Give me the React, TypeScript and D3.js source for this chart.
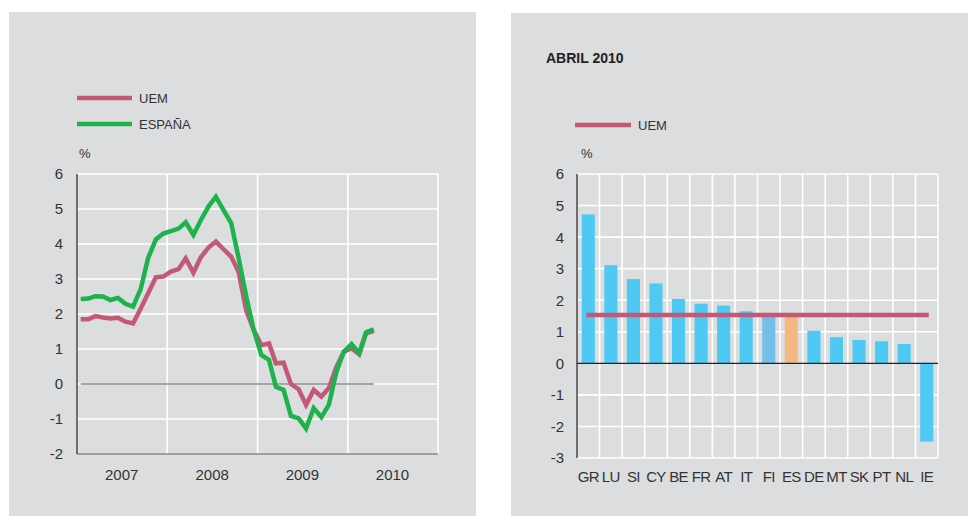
import React from "react";
import * as d3 from "d3";

// ---- Left chart data: monthly HICP inflation, Jan 2007 – Apr 2010 (%)
const START_YEAR = 2007;
const UEM_SERIES = [
  1.85, 1.85, 1.94, 1.9, 1.87, 1.89, 1.78, 1.73, 2.16, 2.59, 3.05, 3.07,
  3.21, 3.28, 3.59, 3.18, 3.62, 3.9, 4.07, 3.85, 3.64, 3.2, 2.1, 1.55,
  1.11, 1.16, 0.59, 0.61, 0.0, -0.15, -0.6, -0.17, -0.36, -0.12, 0.49, 0.92,
  1.02, 0.85, 1.45, 1.52,
];
const ESP_SERIES = [
  2.43, 2.44, 2.51, 2.5, 2.4, 2.46, 2.29, 2.21, 2.72, 3.6, 4.13, 4.3,
  4.37, 4.44, 4.62, 4.26, 4.68, 5.07, 5.35, 4.97, 4.6, 3.6, 2.5, 1.55,
  0.83, 0.69, -0.08, -0.17, -0.91, -0.98, -1.27, -0.69, -0.95, -0.6, 0.35, 0.92,
  1.14, 0.88, 1.48, 1.56,
];
const YEAR_LABELS = ["2007", "2008", "2009", "2010"];
const LEFT_TICKS = [6, 5, 4, 3, 2, 1, 0, -1, -2];
const LEGEND_LEFT = ["UEM", "ESPAÑA"];

// ---- Right chart data: April 2010
const COUNTRIES = ["GR", "LU", "SI", "CY", "BE", "FR", "AT", "IT", "FI", "ES", "DE", "MT", "SK", "PT", "NL", "IE"];
const COUNTRY_VALUES = [4.72, 3.11, 2.67, 2.53, 2.04, 1.89, 1.83, 1.65, 1.5, 1.5, 1.03, 0.83, 0.74, 0.7, 0.61, -2.48];
const UEM_APRIL = 1.53;
const RIGHT_TICKS = [6, 5, 4, 3, 2, 1, 0, -1, -2, -3];
const RIGHT_TITLE = "ABRIL 2010";

const C_UEM = "#c25a77";
const C_ESP = "#1db24b";
const C_BAR = "#4ec9f3";
const C_FI = "#74bfea";
const C_ES = "#f4b97e";
const C_PANEL = "#dcdddf";
const C_TEXT = "#333333";
const FONT = "'Liberation Sans', Arial, Helvetica, sans-serif";

function LeftChart() {
  const x0 = 77, x1 = 438, yTop = 174, yBot = 454;
  const x = d3
    .scaleTime()
    .domain([new Date(START_YEAR, 0, 1), new Date(START_YEAR + YEAR_LABELS.length, 0, 1)])
    .range([x0, x1]);
  const y = d3.scaleLinear().domain([-2, 6]).range([yBot, yTop]);
  const dates = UEM_SERIES.map((_, i) => new Date(START_YEAR, i, 16));
  const line = d3
    .line<number>()
    .x((_, i) => x(dates[i]))
    .y((v) => y(v));
  const yearStarts = YEAR_LABELS.map((yy) => new Date(+yy + 1, 0, 1));
  const yearMids = YEAR_LABELS.map((yy) => new Date(+yy, 6, 1));
  return (
    <g>
      <rect x={9} y={12} width={467} height={510} fill={C_PANEL} />
      {/* legend */}
      {LEGEND_LEFT.map((name, i) => (
        <g key={name}>
          <line x1={77} x2={132} y1={98 + i * 26} y2={98 + i * 26} stroke={i === 0 ? C_UEM : C_ESP} strokeWidth={4.5} />
          <text x={139} y={98 + i * 26} dy="0.36em" fontSize={13} fill={C_TEXT} fontFamily={FONT}>
            {name}
          </text>
        </g>
      ))}
      <text x={79} y={153} dy="0.36em" fontSize={13} fill={C_TEXT} fontFamily={FONT}>%</text>
      {/* grid */}
      {LEFT_TICKS.filter((t) => t > -2).map((t) => (
        <line key={t} x1={x0} x2={x1} y1={y(t)} y2={y(t)} stroke="#fff" strokeWidth={1.6} />
      ))}
      {yearStarts.map((d, i) => (
        <line key={i} x1={x(d)} x2={x(d)} y1={yTop} y2={yBot} stroke="#fff" strokeWidth={1.6} />
      ))}
      <line x1={x0} x2={x1} y1={yBot} y2={yBot} stroke="#8a8a8a" strokeWidth={1.3} />
      <line x1={x0} x2={x0} y1={yTop} y2={yBot} stroke="#333" strokeWidth={1.3} />
      <line x1={x(dates[0])} x2={x(dates[dates.length - 1])} y1={y(0)} y2={y(0)} stroke="#555" strokeWidth={1.1} />
      {/* tick labels */}
      {LEFT_TICKS.map((t) => (
        <text key={t} x={63} y={y(t)} dy="0.36em" textAnchor="end" fontSize={15} fill={C_TEXT} fontFamily={FONT}>
          {t}
        </text>
      ))}
      {YEAR_LABELS.map((lab, i) => (
        <text key={lab} x={x(yearMids[i])} y={475} dy="0.36em" textAnchor="middle" fontSize={15} fill={C_TEXT} fontFamily={FONT}>
          {lab}
        </text>
      ))}
      {/* series */}
      <path d={line(UEM_SERIES) || ""} fill="none" stroke={C_UEM} strokeWidth={4.5} strokeLinejoin="miter" />
      <path d={line(ESP_SERIES) || ""} fill="none" stroke={C_ESP} strokeWidth={4.5} strokeLinejoin="miter" />
    </g>
  );
}

function RightChart() {
  const x0 = 577, x1 = 938, yTop = 174, yBot = 458;
  const y = d3.scaleLinear().domain([-3, 6]).range([yBot, yTop]);
  const x = d3.scaleBand<string>().domain(COUNTRIES).range([x0, x1]).paddingInner(0.42).paddingOuter(0.21);
  const step = x.step();
  const bw = x.bandwidth();
  const colorOf = (c: string) => (c === "FI" ? C_FI : c === "ES" ? C_ES : C_BAR);
  const first = COUNTRIES[0];
  const last = COUNTRIES[COUNTRIES.length - 1];
  return (
    <g>
      <rect x={511} y={13} width={470} height={510} fill={C_PANEL} />
      <text x={546} y={58} dy="0.36em" fontSize={14} fontWeight="bold" fill="#222" fontFamily={FONT}>
        {RIGHT_TITLE}
      </text>
      <line x1={575} x2={631} y1={125} y2={125} stroke={C_UEM} strokeWidth={4.5} />
      <text x={638} y={125} dy="0.36em" fontSize={13} fill={C_TEXT} fontFamily={FONT}>UEM</text>
      <text x={581} y={153} dy="0.36em" fontSize={13} fill={C_TEXT} fontFamily={FONT}>%</text>
      {/* grid */}
      {RIGHT_TICKS.filter((t) => t !== 0).map((t) => (
        <line key={t} x1={x0} x2={x1} y1={y(t)} y2={y(t)} stroke="#fff" strokeWidth={1.6} />
      ))}
      {COUNTRIES.map((c, i) => (
        <line key={c} x1={x0 + (i + 1) * step} x2={x0 + (i + 1) * step} y1={yTop} y2={yBot} stroke="#fff" strokeWidth={1.6} />
      ))}
      {/* bars */}
      {COUNTRIES.map((c, i) => {
        const v = COUNTRY_VALUES[i];
        return (
          <rect
            key={c}
            x={x(c)}
            width={bw}
            y={Math.min(y(v), y(0))}
            height={Math.abs(y(v) - y(0))}
            fill={colorOf(c)}
          />
        );
      })}
      <line x1={x0} x2={x1} y1={y(0)} y2={y(0)} stroke="#222" strokeWidth={1.1} />
      <line x1={x0} x2={x0} y1={yTop} y2={yBot} stroke="#333" strokeWidth={1.3} />
      {/* UEM reference */}
      <line
        x1={(x(first) || 0) + bw / 2 - 2}
        x2={(x(last) || 0) + bw / 2 + 2}
        y1={y(UEM_APRIL)}
        y2={y(UEM_APRIL)}
        stroke={C_UEM}
        strokeWidth={4.5}
      />
      {/* labels */}
      {RIGHT_TICKS.map((t) => (
        <text key={t} x={564} y={y(t)} dy="0.36em" textAnchor="end" fontSize={15} fill={C_TEXT} fontFamily={FONT}>
          {t}
        </text>
      ))}
      {COUNTRIES.map((c) => (
        <text
          key={c}
          x={(x(c) || 0) + bw / 2}
          y={477}
          dy="0.36em"
          textAnchor="middle"
          fontSize={15}
          letterSpacing={-0.6}
          fill={C_TEXT}
          fontFamily={FONT}
        >
          {c}
        </text>
      ))}
    </g>
  );
}

export default function App() {
  return (
    <div style={{ position: "fixed", left: 0, top: 0, width: 968, height: 516, background: "#fff" }}>
      <svg width={968} height={516} viewBox="0 0 968 516" style={{ display: "block" }}>
        <rect x={0} y={0} width={968} height={516} fill="#fff" />
        <LeftChart />
        <RightChart />
      </svg>
    </div>
  );
}
